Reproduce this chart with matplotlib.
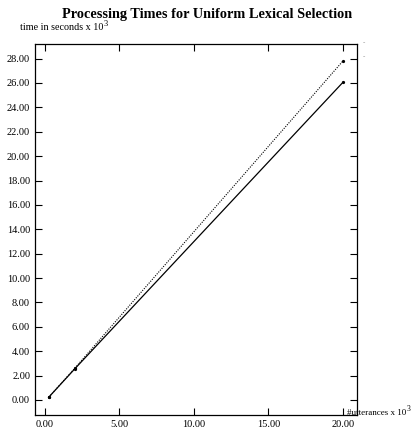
import matplotlib

matplotlib.use("Agg")
import matplotlib.pyplot as plt

# data (x in 10^3 utterances, y in 10^3 seconds)
utterances = [0.25, 2.0, 20.0]
time_solid = [0.22, 2.55, 26.05]
time_dotted = [0.22, 2.6, 27.8]

x_ticks = [0, 5, 10, 15, 20]
y_ticks = list(range(0, 29, 2))

plt.rcParams["font.family"] = ["Liberation Serif", "DejaVu Serif"]

fig = plt.figure(figsize=(4.14, 4.30), dpi=100)
ax = fig.add_axes([0.0845, 0.035, 0.7775, 0.8627])

ax.plot(utterances, time_dotted, color="black", lw=0.8, linestyle=(0, (1, 1.2)),
        marker="o", markersize=1.3)
ax.plot(utterances, time_solid, color="black", lw=0.9, marker="o", markersize=1.3)

ax.set_xlim(-0.67, 20.94)
ax.set_ylim(-1.23, 29.2)
ax.set_xticks(x_ticks)
ax.set_yticks(y_ticks)
ax.set_xticklabels([f"{v:.2f}" for v in x_ticks])
ax.set_yticklabels([f"{v:.2f}" for v in y_ticks])
ax.tick_params(direction="in", length=5, width=0.8, labelsize=7.5,
               top=True, right=True, pad=3.5)
for s in ax.spines.values():
    s.set_linewidth(0.9)

fig.text(0.5, 0.967, "Processing Times for Uniform Lexical Selection",
         ha="center", va="center", fontsize=10.3, fontweight="bold")
fig.text(0.048, 0.935, "time in seconds x 10", ha="left", va="center", fontsize=7.3)
fig.text(0.25, 0.945, "3", ha="left", va="center", fontsize=6)
fig.text(0.838, 0.04, "#utterances x 10", ha="left", va="center", fontsize=6.5)
fig.text(0.983, 0.049, "3", ha="left", va="center", fontsize=5.5)

# small stray marks to the right of the frame
fig.text(0.875, 0.9, "-", fontsize=5, color="0.5", ha="left", va="center")
fig.text(0.875, 0.867, "-", fontsize=5, color="0.5", ha="left", va="center")

fig.savefig("out.png", dpi=100)
